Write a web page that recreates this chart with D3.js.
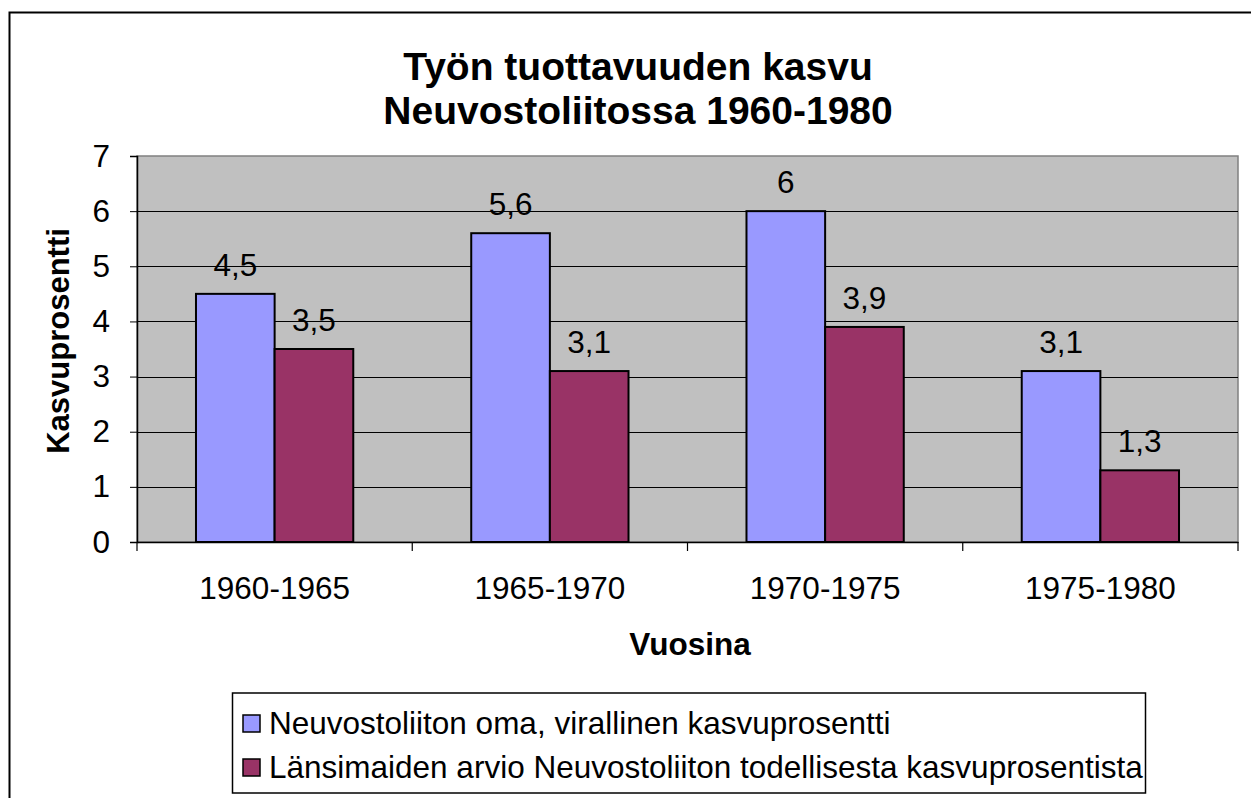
<!DOCTYPE html>
<html><head><meta charset="utf-8">
<script src="https://cdn.jsdelivr.net/npm/d3@7"></script>
<style>body{margin:0;background:#fff}svg{display:block;font-family:"Liberation Sans",Arial,sans-serif}</style>
</head><body><svg id="c" width="1251" height="798"></svg>
<script>
const categories = ["1960-1965","1965-1970","1970-1975","1975-1980"];
const seriesNames = ["Neuvostoliiton oma, virallinen kasvuprosentti","Länsimaiden arvio Neuvostoliiton todellisesta kasvuprosentista"];
const officialValues = [4.5, 5.6, 6, 3.1];
const westernValues = [3.5, 3.1, 3.9, 1.3];
const yTicks = [0,1,2,3,4,5,6,7];
const colors = ["#9999ff","#993366"];
const titleLines = ["Työn tuottavuuden kasvu","Neuvostoliitossa 1960-1980"];

const FS = 31.5;
const svg = d3.select("#c");
const L=137, R=1238, T=156, B=542;
svg.append("rect").attr("x",9.5).attr("y",12.5).attr("width",1400).attr("height",1000)
  .attr("fill","#fff").attr("stroke","#000").attr("stroke-width",2);

const x = d3.scaleBand().domain(categories).range([L,R]).paddingInner(0).paddingOuter(0);
const y = d3.scaleLinear().domain([0,7]).range([B,T]);
const inner = d3.scaleBand().domain([0,1]).range([0,x.bandwidth()]).paddingInner(0).paddingOuter(0.75);

svg.append("rect").attr("x",L).attr("y",T).attr("width",R-L).attr("height",B-T)
  .attr("fill","#c0c0c0").attr("stroke","#808080").attr("stroke-width",1.5);

// gridlines
svg.append("g").selectAll("line").data(yTicks.filter(d=>d>0 && d<7)).join("line")
  .attr("x1",L).attr("x2",R).attr("y1",d=>Math.round(y(d))+0.5).attr("y2",d=>Math.round(y(d))+0.5)
  .attr("stroke","#000").attr("stroke-width",1);

// y axis
const ya = svg.append("g").attr("transform",`translate(${L},0)`)
  .call(d3.axisLeft(y).tickValues(yTicks).tickSize(7).tickPadding(20).tickFormat(d3.format("d")));
ya.select(".domain").attr("stroke","#000").attr("stroke-width",1.5);
ya.selectAll(".tick line").attr("stroke","#000");
ya.selectAll("text").attr("font-size",FS).attr("fill","#000").attr("font-family","Liberation Sans, Arial, sans-serif");

// x axis
const xa = svg.append("g").attr("transform",`translate(0,${B})`)
  .call(d3.axisBottom(x).tickSize(0).tickPadding(35));
xa.select(".domain").attr("stroke","#000").attr("stroke-width",1.5);
xa.selectAll("text").attr("font-size",FS).attr("fill","#000").attr("font-family","Liberation Sans, Arial, sans-serif");
const bounds = categories.map(c=>x(c)).concat([R]);
svg.append("g").selectAll("line").data(bounds).join("line")
  .attr("x1",d=>d).attr("x2",d=>d).attr("y1",B).attr("y2",B+9).attr("stroke","#000").attr("stroke-width",1.2);

// bars
const series = [officialValues, westernValues];
series.forEach((vals,si)=>{
  const g = svg.append("g");
  g.selectAll("rect").data(vals).join("rect")
    .attr("x",(d,i)=>x(categories[i])+inner(si))
    .attr("y",d=>y(d)).attr("width",inner.bandwidth()).attr("height",d=>B-y(d))
    .attr("fill",colors[si]).attr("stroke","#000").attr("stroke-width",2);
  g.selectAll("text").data(vals).join("text")
    .attr("x",(d,i)=>x(categories[i])+inner(si)+inner.bandwidth()/2)
    .attr("y",d=>y(d)-18).attr("text-anchor","middle").attr("font-size",FS).attr("fill","#000")
    .text(d=>String(d).replace(".",","));
});

// title
svg.append("g").selectAll("text").data(titleLines).join("text")
  .attr("x",638).attr("y",(d,i)=>80+i*44).attr("text-anchor","middle")
  .attr("font-size",39).attr("font-weight","bold").text(d=>d);

// axis titles
svg.append("text").attr("x",690).attr("y",655).attr("text-anchor","middle")
  .attr("font-size",31.5).attr("font-weight","bold").text("Vuosina");
svg.append("text").attr("transform","translate(69,341) rotate(-90)").attr("text-anchor","middle")
  .attr("font-size",31).attr("font-weight","bold").text("Kasvuprosentti");

// legend
svg.append("rect").attr("x",232.5).attr("y",693).attr("width",913).attr("height",100)
  .attr("fill","#fff").attr("stroke","#000").attr("stroke-width",1.5);
const lg = svg.append("g").selectAll("g").data(seriesNames).join("g")
  .attr("transform",(d,i)=>`translate(243,${715+i*44})`);
lg.append("rect").attr("width",17).attr("height",17).attr("fill",(d,i)=>colors[i]).attr("stroke","#000").attr("stroke-width",1.5);
lg.append("text").attr("x",26).attr("y",19).attr("font-size",FS).text(d=>d);
</script></body></html>
